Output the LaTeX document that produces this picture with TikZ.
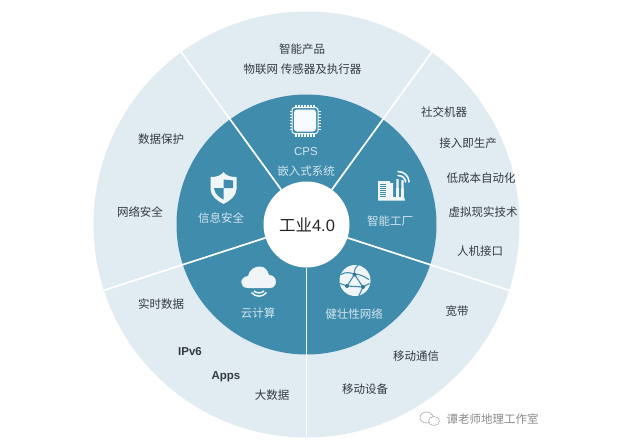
\documentclass[tikz,border=0pt]{standalone}
\usepackage{fontspec}
\usetikzlibrary{calc}
\setmainfont{Noto Sans CJK SC}
\newfontfamily\latinfont{Liberation Sans}
\definecolor{ringlight}{HTML}{E1EBF2}
\definecolor{ringteal}{HTML}{408CAD}
\definecolor{labeldark}{HTML}{333B40}
\definecolor{labellight}{HTML}{D3E6EE}
\definecolor{markgray}{HTML}{8A8A8A}
\tikzset{
  outerlabel/.style={text=labeldark,font=\fontsize{11.5}{13}\selectfont,inner sep=0pt},
  innerlabel/.style={text=labellight,font=\fontsize{11.5}{13}\selectfont,inner sep=0pt},
  hublabel/.style={text=black!85,font=\fontsize{16.5}{20}\selectfont,inner sep=0pt},
  spoke/.style={draw=white,line width=1.7pt},
  iconfill/.style={fill=white!92!ringteal,draw=none},
  iconline/.style={draw=white!92!ringteal,line cap=round},
}
\begin{document}
\begin{tikzpicture}[x=1pt,y=-1pt]
\useasboundingbox (0,0) rectangle (625,442);
\fill[white] (0,0) rectangle (625,442);
\coordinate (c) at (306.5,224.5);
% discs
\fill[ringlight] (c) circle[radius=213];
\fill[ringteal] (c) circle[radius=130];
% spokes from the hub to the rim
\foreach \n/\a in {a/-54,b/-126,d/-198,e/-270,f/-342}{
  \coordinate (in\n) at ($(c)+(\a:43)$);
  \coordinate (out\n) at ($(c)+(\a:213)$);
  \draw[spoke] (in\n) -- (out\n);
}
\node[circle,fill=white,minimum size=86pt,inner sep=0pt] (hub) at (c) {};
\node[hublabel] (hubtext) at (307,225) {工业\latinfont 4.0};
% outer labels
\node[outerlabel] (o1) at (302,49) {智能产品};
\node[outerlabel] (o2) at (302.5,69) {物联网 传感器及执行器};
\node[outerlabel] (o3) at (444,112) {社交机器};
\node[outerlabel] (o4) at (468,143) {接入即生产};
\node[outerlabel] (o5) at (481,178) {低成本自动化};
\node[outerlabel] (o6) at (483,212) {虚拟现实技术};
\node[outerlabel] (o7) at (480,251) {人机接口};
\node[outerlabel] (o8) at (457,311) {宽带};
\node[outerlabel] (o9) at (416,356) {移动通信};
\node[outerlabel] (o10) at (365,389) {移动设备};
\node[outerlabel] (o11) at (272,395) {大数据};
\node[outerlabel,font=\fontsize{11.5}{13}\selectfont\latinfont\bfseries] (o12) at (226,377) {Apps};
\node[outerlabel,font=\fontsize{11.5}{13}\selectfont\latinfont\bfseries] (o13) at (190,352) {IPv6};
\node[outerlabel] (o14) at (161,304) {实时数据};
\node[outerlabel] (o15) at (140,212) {网络安全};
\node[outerlabel] (o16) at (161,139) {数据保护};
% inner labels
\node[innerlabel,font=\fontsize{11.5}{13}\selectfont\latinfont] (i1) at (306,152) {CPS};
\node[innerlabel] (i2) at (306,171) {嵌入式系统};
\node[innerlabel] (i3) at (221,218) {信息安全};
\node[innerlabel] (i4) at (390,221) {智能工厂};
\node[innerlabel] (i5) at (258,313) {云计算};
\node[innerlabel] (i6) at (354,314) {健壮性网络};
% chip icon
\begin{scope}[shift={(305,120.5)}]
  \foreach \k in {-9,-6,-3,0,3,6,9}{
    \draw[iconline,line width=1.5pt,line cap=butt] (\k,-16) -- (\k,-11);
    \draw[iconline,line width=1.5pt,line cap=butt] (\k,11) -- (\k,16);
    \draw[iconline,line width=1.5pt,line cap=butt] (-15.5,\k) -- (-11,\k);
    \draw[iconline,line width=1.5pt,line cap=butt] (11,\k) -- (15.5,\k);
  }
  \draw[fill=ringteal,draw=white!92!ringteal,line width=1pt,rounded corners=2.5pt] (-13,-13) rectangle (13,13);
  \fill[white!96!ringteal,rounded corners=3pt] (-11,-11) rectangle (11,11);
\end{scope}
% shield icon
\begin{scope}[shift={(223.5,188)}]
  \path[iconfill] (-13,-11) .. controls (-7,-11) and (-3,-12) .. (0,-16)
     .. controls (3,-12) and (7,-11) .. (13,-11)
     -- (13,1) .. controls (13,8) and (6,13) .. (0,16)
     .. controls (-6,13) and (-13,8) .. (-13,1) -- cycle;
  \fill[ringteal] (0,-8.5) -- (9.5,-7.5) -- (9.5,0) -- (0,0) -- cycle;
  \fill[ringteal] (0,0) -- (-9.5,0) .. controls (-9,6) and (-4,9.5) .. (0,11.5) -- cycle;
\end{scope}
% factory icon
\begin{scope}[shift={(378,172)}]
  \path[iconfill] (0,9) -- (12,9) -- (12,11) -- (15,11) -- (15,25) -- (18,25) -- (18.5,7) -- (20.5,7) -- (21,25) -- (23,25) -- (23.5,8) -- (25.5,8) -- (26,25) -- (27,28.5) -- (0,28.5) -- cycle;
  \foreach \k in {12,14,...,24}{\draw[ringteal,line width=.7pt] (2,\k) -- (8,\k);}
  \draw[iconline,line width=1.6pt] (20,3.5) .. controls (24,3.5) and (27.5,6) .. (27.5,10);
  \draw[iconline,line width=1.6pt] (20,-0.5) .. controls (26,-0.5) and (31,4) .. (31,10);
\end{scope}
% cloud icon
\begin{scope}[shift={(259,277)}]
  \path[iconfill] (-11,11) .. controls (-20,11) and (-20,0) .. (-11,-1)
     .. controls (-10,-7) and (-4,-11) .. (1,-10.5)
     .. controls (6,-10.5) and (9,-6) .. (10,-2)
     .. controls (19,-2) and (19,11) .. (11,11) -- cycle;
  \draw[iconline,line width=1.5pt,line cap=butt] (-5,14) .. controls (-2,16.5) and (2,16.5) .. (5,14);
  \draw[iconline,line width=1.5pt,line cap=butt] (-7.5,15.5) .. controls (-3,20.5) and (3,20.5) .. (7.5,15.5);
\end{scope}
% network globe icon
\begin{scope}[shift={(355,280.5)}]
  \fill[white!92!ringteal] (0,0) circle[radius=15.5];
  \coordinate (g1) at (-0.5,-6);
  \coordinate (g2) at (-8,5.5);
  \coordinate (g3) at (8,6.5);
  \draw[ringteal,line width=1.1pt] (-14,-6) .. controls (-9,-9) and (-4,-8) .. (g1) .. controls (4,-7) and (9,-4) .. (14,-1);
  \draw[ringteal,line width=1.1pt] (g1) -- (g2) -- (g3) -- cycle;
  \draw[ringteal,line width=1.1pt] (g1) .. controls (-1,-10) and (0,-13) .. (3,-15);
  \draw[ringteal,line width=1.1pt] (g2) -- (-15,3);
  \draw[ringteal,line width=1.1pt] (g3) -- (4,15);
  \draw[ringteal,line width=1.1pt] (g3) -- (14.5,3);
  \fill[ringteal!85!black] (g1) circle[radius=2] (g2) circle[radius=2] (g3) circle[radius=2];
\end{scope}
% watermark
\begin{scope}[shift={(430,419)}]
  \draw[markgray!70,line width=.6pt] (-3.5,-1.5) ellipse[x radius=6.5,y radius=5.5];
  \draw[markgray!70,line width=.6pt,fill=white] (4,2) ellipse[x radius=5.5,y radius=4.5];
\end{scope}
\node[text=markgray,font=\fontsize{11.5}{13}\selectfont,inner sep=0pt] (mark) at (492.5,419) {谭老师地理工作室};
\end{tikzpicture}
\end{document}
